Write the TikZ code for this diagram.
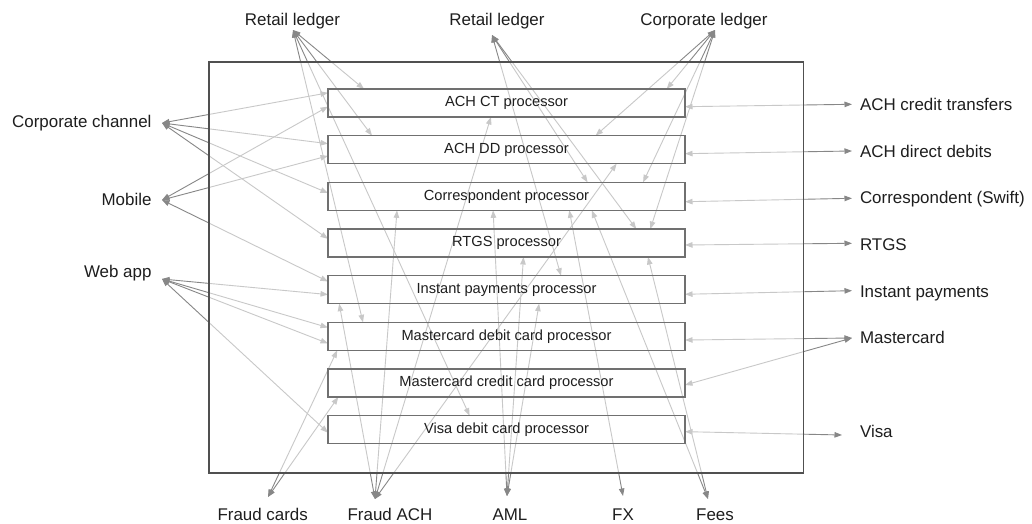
\documentclass[tikz,border=0pt]{standalone}
\usepackage{fontspec}
\setmainfont{Liberation Sans}
\usetikzlibrary{arrows.meta,calc}
\definecolor{edgec}{HTML}{878787}
\definecolor{framec}{HTML}{505050}
\definecolor{boxc}{HTML}{707070}
\definecolor{txt}{HTML}{1E1E1E}
\pgfdeclarelayer{bg}
\pgfdeclarelayer{edges}
\pgfdeclarelayer{frame}
\pgfsetlayers{bg,edges,frame,main}
\tikzset{
  conn/.style={draw=edgec, line width=0.9bp,
    {Triangle[length=7.5bp,width=5.5bp]}-{Triangle[length=7.5bp,width=5.5bp]}},
  proc/.style={draw=boxc, line width=1.3bp, minimum width=357bp, minimum height=28bp,
    inner sep=0pt, outer sep=0pt, font=\fontsize{14.7}{16}\selectfont, text=txt},
  lab/.style={font=\fontsize{17}{20}\selectfont, text=txt, inner sep=0pt, outer sep=0pt},
  framebox/.style={draw=framec, line width=1.5bp, fill=white, fill opacity=0.55,
    draw opacity=1, minimum width=594.5bp, minimum height=411bp, inner sep=0pt, outer sep=0pt}
}
\begin{document}
\begin{tikzpicture}[x=1bp,y=-1bp]
\begin{pgfonlayer}{bg}
\fill[white] (0,0) rectangle (1032,524);
\end{pgfonlayer}
\useasboundingbox (0,0) rectangle (1032,524);

\begin{pgfonlayer}{frame}
\node[framebox] (frame) at (506.25,267.5) {};
\end{pgfonlayer}

% processors
\node[proc] (p1) at (506.5,103) {ACH CT processor};
\node[proc] (p2) at (506.5,149.67) {ACH DD processor};
\node[proc] (p3) at (506.5,196.33) {Correspondent processor};
\node[proc] (p4) at (506.5,243) {RTGS processor};
\node[proc] (p5) at (506.5,289.67) {Instant payments processor};
\node[proc] (p6) at (506.5,336.33) {Mastercard debit card processor};
\node[proc] (p7) at (506.5,383) {Mastercard credit card processor};
\node[proc] (p8) at (506.5,429.67) {Visa debit card processor};

% top labels
\node[lab, anchor=base] (rl1) at (292.5,26) {Retail ledger};
\node[lab, anchor=base] (rl2) at (497,26) {Retail ledger};
\node[lab, anchor=base] (cl) at (704,26) {Corporate ledger};
% left labels
\node[lab, anchor=base east] (cc) at (151.5,128) {Corporate channel};
\node[lab, anchor=base east] (mo) at (151.5,206) {Mobile};
\node[lab, anchor=base east] (wa) at (151.5,278) {Web app};
% right labels
\node[lab, anchor=base west] (ac) at (860,111) {ACH credit transfers};
\node[lab, anchor=base west] (dd) at (860,157.5) {ACH direct debits};
\node[lab, anchor=base west] (co) at (860,204) {Correspondent (Swift)};
\node[lab, anchor=base west] (rt) at (860,250.5) {RTGS};
\node[lab, anchor=base west] (ip) at (860,297.5) {Instant payments};
\node[lab, anchor=base west] (mc) at (860,344) {Mastercard};
\node[lab, anchor=base west] (vi) at (860,437) {Visa};
% bottom labels
\node[lab, anchor=base] (fc) at (262.7,520) {Fraud cards};
\node[lab, anchor=base] (fa) at (390,520) {Fraud ACH};
\node[lab, anchor=base] (am) at (510,520) {AML};
\node[lab, anchor=base] (fx) at (623,520) {FX};
\node[lab, anchor=base] (fe) at (715,520) {Fees};

% connector end points at the external systems
\coordinate (rl1t) at (293,30);
\coordinate (rl2t) at (492,35);
\coordinate (clt) at (715,30);
\coordinate (cct) at (162,123);
\coordinate (mot) at (162,200);
\coordinate (wat) at (162,279);
\coordinate (act) at (852,104.3);
\coordinate (ddt) at (852,151);
\coordinate (cot) at (852,198.3);
\coordinate (rtt) at (852,243.3);
\coordinate (ipt) at (852,290.7);
\coordinate (mct) at (852,338);
\coordinate (vit) at (842,435);
\coordinate (fct) at (268,497);
\coordinate (fat) at (375,499);
\coordinate (amt) at (507,496);
\coordinate (fxt) at (623,496);
\coordinate (fet) at (708,499);

\begin{pgfonlayer}{edges}
% Retail ledger 1
\draw[conn] (rl1t) -- ($(p1.north west)+(36,0)$);
\draw[conn] (rl1t) -- ($(p2.north west)+(44,0)$);
\draw[conn] (rl1t) -- ($(p6.north west)+(35,0)$);
\draw[conn] (rl1t) -- ($(p8.north west)+(141.6,0)$);
% Retail ledger 2
\draw[conn] (rl2t) -- ($(p3.north west)+(259.6,0)$);
\draw[conn] (rl2t) -- ($(p4.north west)+(308.3,0)$);
\draw[conn] (rl2t) -- ($(p5.north west)+(233,0)$);
% Corporate ledger
\draw[conn] (clt) -- ($(p1.north west)+(338.7,0)$);
\draw[conn] (clt) -- ($(p2.north west)+(267.5,0)$);
\draw[conn] (clt) -- ($(p3.north west)+(315.1,0)$);
\draw[conn] (clt) -- ($(p4.north west)+(322.3,0)$);
% Corporate channel
\draw[conn] (cct) -- ($(p1.west)+(0,-10.2)$);
\draw[conn] (cct) -- ($(p2.west)+(0,-6)$);
\draw[conn] (cct) -- ($(p3.west)+(0,-3.3)$);
\draw[conn] (cct) -- ($(p4.west)+(0,-4.2)$);
% Mobile
\draw[conn] (mot) -- ($(p1.west)+(0,3.6)$);
\draw[conn] (mot) -- ($(p2.west)+(0,6.2)$);
\draw[conn] (mot) -- ($(p5.west)+(0,-8.2)$);
% Web app
\draw[conn] (wat) -- ($(p5.west)+(0,4.9)$);
\draw[conn] (wat) -- ($(p6.west)+(0,-8.8)$);
\draw[conn] (wat) -- ($(p6.west)+(0,7.1)$);
\draw[conn] (wat) -- ($(p8.west)+(0,3)$);
% right side
\draw[conn] (act) -- ($(p1.east)+(0,3.7)$);
\draw[conn] (ddt) -- ($(p2.east)+(0,4)$);
\draw[conn] (cot) -- ($(p3.east)+(0,5.4)$);
\draw[conn] (rtt) -- ($(p4.east)+(0,2)$);
\draw[conn] (ipt) -- ($(p5.east)+(0,4.6)$);
\draw[conn] (mct) -- ($(p6.east)+(0,3.7)$);
\draw[conn] (mct) -- ($(p7.east)+(0,2)$);
\draw[conn] (vit) -- ($(p8.east)+(0,2)$);
% Fraud cards
\draw[conn] (fct) -- ($(p6.south west)+(9.2,0)$);
\draw[conn] (fct) -- ($(p7.south west)+(10.3,0)$);
% Fraud ACH
\draw[conn] (fat) -- ($(p1.south west)+(162.9,0)$);
\draw[conn] (fat) -- ($(p2.south west)+(288.6,0)$);
\draw[conn] (fat) -- ($(p3.south west)+(69,0)$);
\draw[conn] (fat) -- ($(p5.south west)+(11.2,0)$);
% AML
\draw[conn] (amt) -- ($(p3.south west)+(165.1,0)$);
\draw[conn] (amt) -- ($(p4.south west)+(195.5,0)$);
\draw[conn] (amt) -- ($(p5.south west)+(211.1,0)$);
% FX
\draw[conn] (fxt) -- ($(p3.south west)+(241.3,0)$);
% Fees
\draw[conn] (fet) -- ($(p3.south west)+(263.8,0)$);
\draw[conn] (fet) -- ($(p4.south west)+(320,0)$);
\end{pgfonlayer}
\end{tikzpicture}
\end{document}
